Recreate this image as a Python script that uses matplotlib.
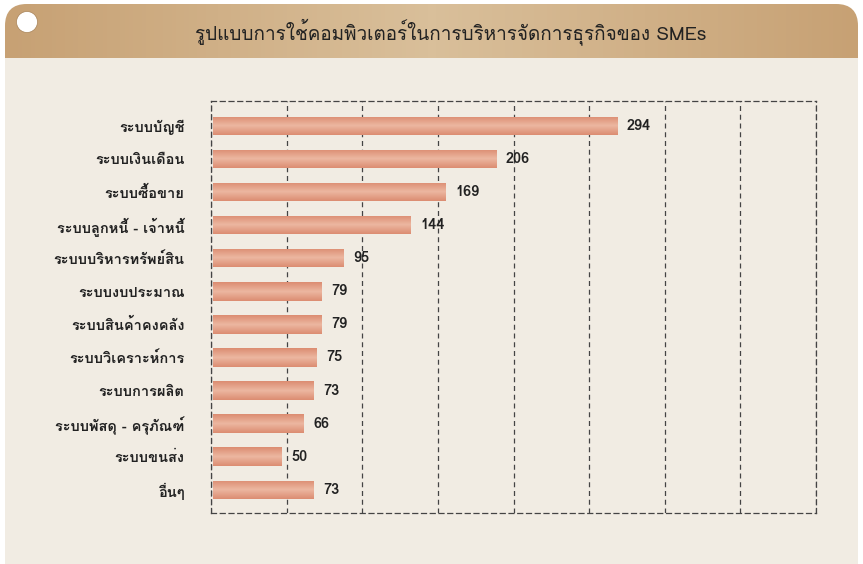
import numpy as np
import matplotlib
matplotlib.use("Agg")
import matplotlib.pyplot as plt
from matplotlib import font_manager
from matplotlib.ft2font import FT2Font
from matplotlib.patches import FancyBboxPatch, Circle

# data
categories = ["ระบบบัญชี", "ระบบเงินเดือน", "ระบบซื้อขาย", "ระบบลูกหนี้ - เจ้าหนี้",
              "ระบบบริหารทรัพย์สิน", "ระบบงบประมาณ", "ระบบสินค้าคงคลัง",
              "ระบบวิเคราะห์การ", "ระบบการผลิต", "ระบบพัสดุ - ครุภัณฑ์",
              "ระบบขนส่ง", "อื่นๆ"]
counts = [294, 206, 169, 144, 95, 79, 79, 75, 73, 66, 50, 73]
title = "รูปแบบการใช้คอมพิวเตอร์ในการบริหารจัดการธุรกิจของ SMEs"


# find an installed family that has Thai glyphs
def thai_families():
    found = []
    for f in font_manager.fontManager.ttflist:
        try:
            if 0x0E01 in FT2Font(f.fname).get_charmap():
                if f.name not in found:
                    found.append(f.name)
        except Exception:
            pass
    return found


thai = thai_families()
plt.rcParams['font.family'] = thai + ['DejaVu Sans']

fig = plt.figure(figsize=(8.63, 5.64), dpi=100)
fig.patch.set_facecolor("white")

# card background (runs off the bottom edge)
bg = fig.add_axes([0, 0, 1, 1])
bg.set_xlim(0, 863)
bg.set_ylim(564, 0)
bg.axis("off")
card = FancyBboxPatch((5, 4), 853, 620, boxstyle="round,pad=0,rounding_size=22",
                      fc="#f1ece3", ec="none")
bg.add_patch(card)
grad = np.linspace(0, 1, 200).reshape(1, -1)
grad = 1 - np.abs(grad - 0.5) * 2
head = bg.imshow(grad, extent=(5, 858, 58, 4), cmap=matplotlib.colors.LinearSegmentedColormap.from_list(
    "hd", ["#c7a174", "#d9bf9a"]), aspect="auto", zorder=2)
head.set_clip_path(card)
bg.add_patch(Circle((27, 22), 10.5, fc="white", ec="#a88358", lw=0.5, zorder=3))
bg.text(451, 32, title, ha="center", va="center", fontsize=13.6, color="#222222", zorder=4)
bg.set_zorder(0)

ax = fig.add_axes([211 / 863, 1 - 513 / 564, 605 / 863, 412 / 564])
ax.set_facecolor("none")
ax.set_zorder(1)
y = np.arange(len(categories))
bars = ax.barh(y, counts, left=1.5, height=0.56, color="#e1977c", zorder=2)

# soft highlight through the middle of each bar
light = matplotlib.colors.LinearSegmentedColormap.from_list("bar", ["#dc8d72", "#ecb7a1", "#dc8d72"])
g = np.linspace(0, 1, 50).reshape(-1, 1)
for b in bars:
    x0, y0, w, h = b.get_x(), b.get_y(), b.get_width(), b.get_height()
    im = ax.imshow(g, extent=(x0, x0 + w, y0 + h, y0), cmap=light, aspect="auto", zorder=3)
    im.set_clip_path(b)

for b, v in zip(bars, counts):
    ax.text(b.get_x() + v + 7, b.get_y() + b.get_height() / 2, str(v), va="center", ha="left",
            fontsize=10.5, fontweight="bold", color="#222222")

ax.set_xlim(0, 440)
ax.set_ylim(len(categories) - 0.3, -0.75)
ax.set_xticks(np.arange(0, 441, 55))
ax.xaxis.grid(True, linestyle=(0, (4, 3)), color="#444444", lw=0.9)
ax.set_xticklabels([])
ax.tick_params(length=0)
ax.set_yticks(y)
ax.set_yticklabels(categories, fontsize=10.5, fontweight="bold", color="#222222")
ax.tick_params(axis="y", pad=19)
for s in ax.spines.values():
    s.set_linestyle((0, (4, 3)))
    s.set_color("#444444")
    s.set_linewidth(0.9)

fig.savefig("out.png", dpi=100)
